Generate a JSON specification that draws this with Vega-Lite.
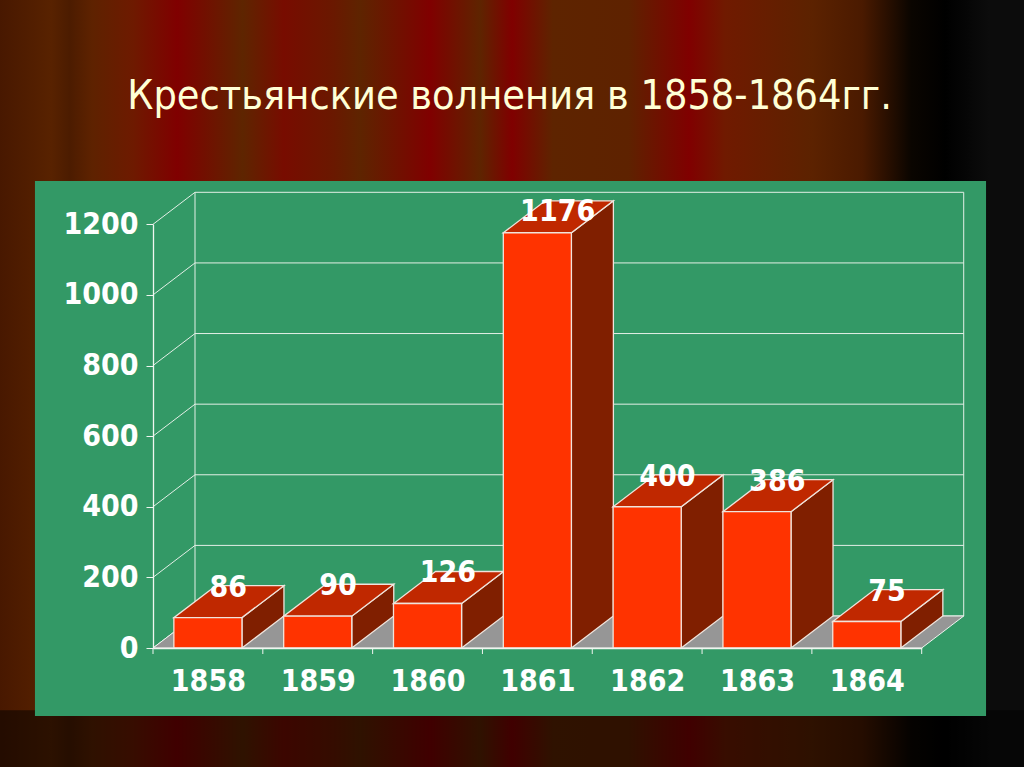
{
"$schema":"https://vega.github.io/schema/vega-lite/v6.json",
"width":1024,"height":767,"padding":0,"autosize":{"type":"none"},
"background":"#000000",
"title":{"text":"Крестьянские волнения в 1858-1864гг.","anchor":"start","orient":"top","offset":-150,"dx":128,"baseline":"alphabetic","font":"DejaVu Sans Condensed","fontSize":41,"fontWeight":"normal","color":"#FFFFD6","zindex":2},
"view":{"stroke":null,"fill":{"gradient":"linear","x1":0,"x2":1,"y1":0,"y2":0,"stops":[
{"offset":0,"color":"#481800"},{"offset":0.05,"color":"#582200"},{"offset":0.068,"color":"#4c1c00"},{"offset":0.09,"color":"#5e2200"},{"offset":0.13,"color":"#6e1a00"},{"offset":0.173,"color":"#800000"},{"offset":0.237,"color":"#5e2500"},{"offset":0.277,"color":"#780c00"},{"offset":0.325,"color":"#6a1800"},{"offset":0.352,"color":"#5e2400"},{"offset":0.42,"color":"#800000"},{"offset":0.469,"color":"#5e2400"},{"offset":0.5,"color":"#800000"},{"offset":0.54,"color":"#5e2400"},{"offset":0.614,"color":"#5e2200"},{"offset":0.673,"color":"#800000"},{"offset":0.708,"color":"#701a00"},{"offset":0.793,"color":"#5c2200"},{"offset":0.842,"color":"#4a1a00"},{"offset":0.89,"color":"#0a0500"},{"offset":0.923,"color":"#000000"},{"offset":0.966,"color":"#0c0c0c"},{"offset":1,"color":"#0c0c0c"}]}},
"datasets":{
"bars":[{"year":1858,"value":86},{"year":1859,"value":90},{"year":1860,"value":126},{"year":1861,"value":1176},{"year":1862,"value":400},{"year":1863,"value":386},{"year":1864,"value":75}],
"ticks":[{"tick":0},{"tick":200},{"tick":400},{"tick":600},{"tick":800},{"tick":1000},{"tick":1200}],
"edges":[{"edge":1857.5},{"edge":1858.5},{"edge":1859.5},{"edge":1860.5},{"edge":1861.5},{"edge":1862.5},{"edge":1863.5},{"edge":1864.5}]
},
"config":{"axis":{"grid":false,"labelFont":"DejaVu Sans Condensed","labelFontWeight":"bold","labelFontSize":30,"labelColor":"#FFFFFF","domainColor":"#F0F5F0","tickColor":"#F0F5F0","domainWidth":1.3,"tickWidth":1}},
"layer":[
{"data":{"values":[{"band":"floor"}]},"mark":{"type":"rect","fill":"#000000","opacity":0.5},"encoding":{
 "x":{"datum":1856.1,"type":"quantitative","scale":{"domain":[1857.5,1864.5],"range":[153,921.7]},"axis":{"orient":"bottom","title":null,"offset":-119,"values":[1858,1859,1860,1861,1862,1863,1864],"format":"d","tickSize":0,"labelPadding":18,"labelBaseline":"top","zindex":1,"labelOverlap":false,"labelFlush":false}},"x2":{"datum":1865.44},
 "y":{"datum":-176,"type":"quantitative","scale":{"domain":[0,1200],"range":[648,224.3]},"axis":{"orient":"left","title":null,"offset":-153,"values":[0,200,400,600,800,1000,1200],"format":"d","tickSize":7,"labelPadding":8,"zindex":1,"labelOverlap":false,"labelFlush":false}},"y2":{"datum":-340}}},
{"data":{"values":[{"band":"panel"}]},"mark":{"type":"rect","fill":"#339966"},"encoding":{
 "x":{"datum":1856.425,"type":"quantitative"},"x2":{"datum":1865.086},
 "y":{"datum":-192.6,"type":"quantitative"},"y2":{"datum":1322.6}}},
{"data":{"name":"ticks"},"transform":[{"calculate":"datum.tick+90.6","as":"back"}],"mark":{"type":"rule","color":"#E4EFE6","strokeWidth":1},"encoding":{
 "x":{"datum":1857.8825,"type":"quantitative"},"x2":{"datum":1864.8825},
 "y":{"field":"back","type":"quantitative"}}},
{"data":{"name":"ticks"},"transform":[{"calculate":"datum.tick+90.6","as":"back"}],"mark":{"type":"rule","color":"#E4EFE6","strokeWidth":1},"encoding":{
 "x":{"datum":1857.5,"type":"quantitative"},"x2":{"datum":1857.8825},
 "y":{"field":"tick","type":"quantitative"},"y2":{"field":"back"}}},
{"data":{"values":[{"wall":1857.8825},{"wall":1864.8825}]},"mark":{"type":"rule","color":"#E4EFE6","strokeWidth":1},"encoding":{
 "x":{"field":"wall","type":"quantitative"},
 "y":{"datum":90.6,"type":"quantitative"},"y2":{"datum":1290.6}}},
{"data":{"values":[{"t":0},{"t":1}]},"transform":[{"calculate":"1857.5+datum.t*0.3825","as":"a"},{"calculate":"1864.5+datum.t*0.3825","as":"b"},{"calculate":"datum.t*90.6","as":"h"}],"mark":{"type":"area","orient":"horizontal","fill":"#969696","stroke":"#F0F5F0","strokeWidth":1},"encoding":{
 "x":{"field":"a","type":"quantitative"},"x2":{"field":"b"},
 "y":{"field":"h","type":"quantitative","stack":null}}},
{"data":{"name":"bars"},"transform":[{"calculate":"[0,1]","as":"t"},{"flatten":["t"]},{"calculate":"datum.year+0.31+datum.t*0.3825","as":"sx"},{"calculate":"datum.t*90.6","as":"lo"},{"calculate":"datum.value+datum.t*90.6","as":"hi"}],"mark":{"type":"area","fill":"#801F00","stroke":"#F0E4DC","strokeWidth":1.3},"encoding":{
 "x":{"field":"sx","type":"quantitative"},
 "y":{"field":"lo","type":"quantitative","stack":null},"y2":{"field":"hi"},
 "detail":{"field":"year"}}},
{"data":{"name":"bars"},"transform":[{"calculate":"[0,1]","as":"t"},{"flatten":["t"]},{"calculate":"datum.year-0.31+datum.t*0.3825","as":"l"},{"calculate":"datum.year+0.31+datum.t*0.3825","as":"r"},{"calculate":"datum.value+datum.t*90.6","as":"top"}],"mark":{"type":"area","orient":"horizontal","fill":"#C02800","stroke":"#F0E4DC","strokeWidth":1.3},"encoding":{
 "x":{"field":"l","type":"quantitative"},"x2":{"field":"r"},
 "y":{"field":"top","type":"quantitative","stack":null},
 "detail":{"field":"year"}}},
{"data":{"name":"bars"},"transform":[{"calculate":"datum.year-0.31","as":"l"},{"calculate":"datum.year+0.31","as":"r"}],"mark":{"type":"rect","fill":"#FF3300","stroke":"#F0E4DC","strokeWidth":1.3},"encoding":{
 "x":{"field":"l","type":"quantitative"},"x2":{"field":"r"},
 "y":{"field":"value","type":"quantitative"},"y2":{"datum":0}}},
{"data":{"name":"edges"},"mark":{"type":"rule","color":"#F0F5F0","strokeWidth":1},"encoding":{
 "x":{"field":"edge","type":"quantitative"},
 "y":{"datum":0,"type":"quantitative"},"y2":{"datum":-17}}},
{"data":{"name":"bars"},"transform":[{"calculate":"min(datum.value+85,1235)","as":"ly"},{"calculate":"datum.year+0.185","as":"lx"}],"mark":{"type":"text","font":"DejaVu Sans Condensed","fontWeight":"bold","fontSize":30,"color":"#FFFFFF","baseline":"middle","align":"center"},"encoding":{
 "x":{"field":"lx","type":"quantitative"},
 "y":{"field":"ly","type":"quantitative"},
 "text":{"field":"value","type":"quantitative","format":"d"}}}
]
}
